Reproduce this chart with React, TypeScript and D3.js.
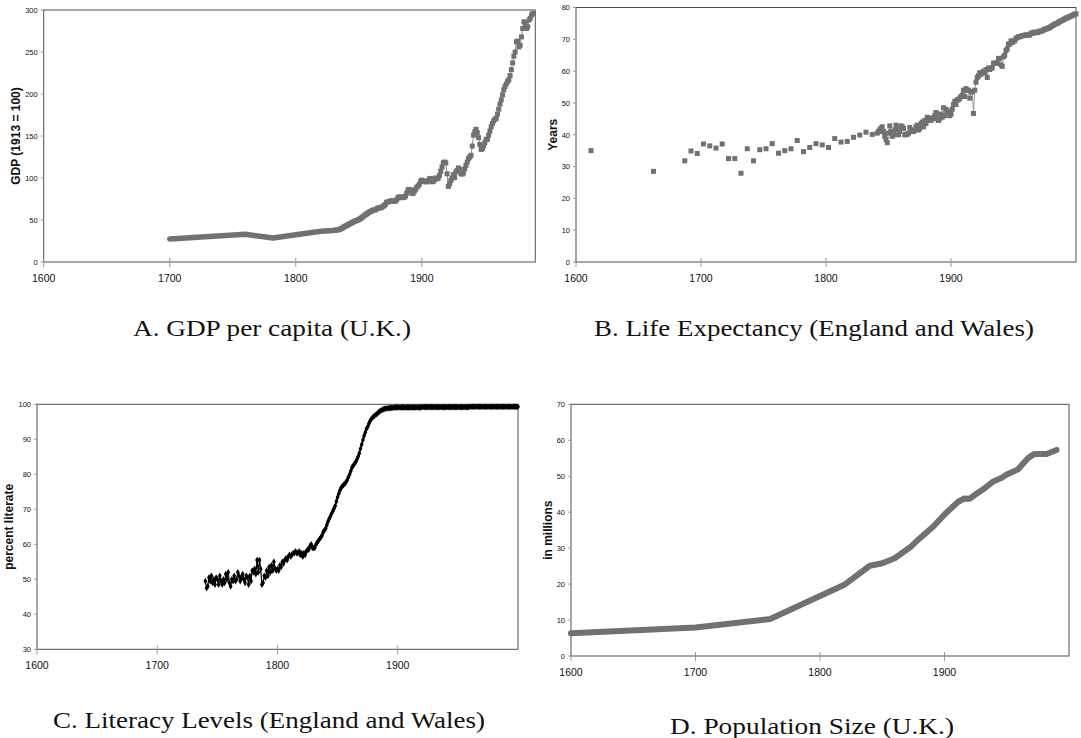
import React from "react";
import * as d3 from "d3";

// ---------------- DATA ----------------
const centuryTicks = [1600, 1700, 1800, 1900];
const gdpTicks = [0, 50, 100, 150, 200, 250, 300];
const lifeTicks = [0, 10, 20, 30, 40, 50, 60, 70, 80];
const literacyTicks = [30, 40, 50, 60, 70, 80, 90, 100];
const popTicks = [0, 10, 20, 30, 40, 50, 60, 70];

// A. GDP per capita (U.K.), 1913 = 100
const gdpEarlyYears = [1700, 1760, 1782, 1800, 1820, 1830];
const gdpEarlyValues = [27.5, 33, 28.5, 32.5, 36.5, 37.5];
const gdpAnnualStart = 1830;
const gdpAnnual = [
  37.5, 37.8, 38, 38.2, 38.5, 39, 39.8, 40.5, 41.5, 42.5,
  43, 44, 44.8, 45.6, 46.4, 47.2, 48, 48.7, 49.3, 49.8,
  50.5, 51.5, 52.5, 53.5, 54.8, 56, 57, 58, 59, 60,
  60.5, 61.5, 62, 62, 63, 64, 64.5, 64.5, 65, 66,
  67, 68.5, 71, 71.5, 72, 72.5, 73, 72.5, 72, 72.5,
  74, 76.5, 77.5, 77.5, 76.5, 77, 77, 78.5, 82, 86,
  86.5, 85.5, 82, 81.5, 84, 86.5, 89, 90.5, 92.5, 96,
  97.5, 96.5, 96, 95.5, 95.5, 96.5, 99, 99.5, 95.5, 96,
  98, 100, 99, 100, 103, 108, 113, 118, 119, 118,
  105, 90, 93, 97, 100, 104, 100.5, 107, 109, 112,
  110, 105.5, 104.5, 106, 111, 115, 119, 123, 125, 127,
  138, 151, 155, 158, 154, 148, 140, 134, 135, 138,
  142, 146, 146, 151, 156, 161, 165, 168, 170, 171,
  176, 182, 188, 193, 199, 205, 209, 212, 215, 217,
  222, 229, 237, 245, 250, 262, 263, 256, 258, 268,
  278, 286, 284, 278, 280, 288, 290, 294, 296,
];

// B. Life expectancy (England and Wales)
const lifeEarlyYears = [
  1612, 1662, 1687, 1692, 1697, 1702, 1707, 1712, 1717, 1722, 1727,
  1732, 1737, 1742, 1747, 1752, 1757, 1762, 1767, 1772, 1777, 1782,
  1787, 1792, 1797, 1802, 1807, 1812, 1817, 1822, 1827, 1832, 1837,
];
const lifeEarlyValues = [
  35, 28.5, 31.8, 34.9, 34.1, 37.1, 36.5, 35.8, 37.1, 32.5, 32.5,
  27.9, 35.6, 31.8, 35.3, 35.6, 37.2, 34.2, 35.0, 35.6, 38.2, 34.7,
  36.0, 37.2, 36.8, 36.0, 38.8, 37.7, 37.9, 39.2, 39.9, 40.8, 40.1,
];
const lifeAnnualStart = 1841;
const lifeAnnual = [
  40.5, 41, 41.5, 42, 42.5, 41, 39.5, 38.5, 37.5, 40.5,
  42.8, 41, 39.5, 40, 41.5, 43, 42, 40, 41, 42.8,
  42.5, 42, 40, 40, 40.2, 40.5, 42.3, 41.5, 41,
  41, 41.5, 42.5, 43, 41.5, 42, 43.5, 44, 42.5, 44.5,
  43.5, 45.5, 44.5, 45, 44.5, 45.3, 45, 46, 47, 46.5,
  44.5, 45, 46.5, 45.5, 48.5, 46, 48, 47.5, 47, 46,
  46.5, 48, 49.5, 50.5, 49.5, 51, 51, 51.5, 52, 52.5,
  54, 52, 54.5, 54, 54, 51.5, 53.5, 53.5, 46.7, 54,
  56.5, 58, 58.5, 59.5, 59, 59.5, 60, 59.5, 60.5, 58,
  61, 60.5, 61, 61, 62.5, 62.5, 62.5, 62.5, 64, 64,
  62, 61.5, 64.5, 65, 66.5, 67, 68.5, 68.5, 69.5, 69,
  69.5, 69.5, 70.3, 70.5, 70.8, 70.8, 71, 71.1, 71.2, 71.3,
  71.4, 71.3, 71.3, 71.4, 71.9, 72, 72, 72.3, 72.1, 72.1,
  72.3, 72.6, 72.5, 72.7, 72.9, 73.2, 73.2, 73.5, 73.5, 73.7,
  74, 74.3, 74.5, 74.7, 75, 75, 75.3, 75.6, 75.8, 75.9,
  76.2, 76.4, 76.7, 76.7, 77, 77.1, 77.3, 77.5, 77.7, 77.9,
  78,
];

// C. Literacy levels (England and Wales), percent literate
const literacyStart = 1740;
const literacyValues = [
  49.5, 47.5, 48, 50.5, 49.5, 51, 49, 50, 48.5, 50.5,
  50, 48.5, 51, 49.5, 48.5, 50, 49, 51.5, 50, 52,
  49, 48, 50, 49.5, 51, 49.5, 50, 52, 51, 49.5,
  50.5, 51.5, 50, 49, 51, 50.5, 48.5, 51, 49.5, 52.5,
  52, 53, 51.5, 55.5, 52, 55.5, 53, 48.5, 49, 51,
  50.5, 52.5, 51, 53.5, 52, 54, 52.5, 55, 53, 52.5,
  53, 52.5, 54, 53.5, 55, 54.5, 55.5, 56, 55.5, 56.5,
  57, 56.5, 57, 57.5, 57.5, 58, 57.5, 57.5, 58, 57,
  57.5, 56.5, 57.5, 57, 58, 58.5, 58.5, 59.5, 60, 59,
  59, 59, 60, 60.5, 61, 61.5, 62, 62.5, 63.5, 64,
  64.5, 65.5, 66.5, 67.3, 68, 68.8, 69.5, 70.2, 71, 72.3,
  73.5, 74.5, 75.5, 76.2, 76.6, 77, 77.3, 77.8, 78.4, 79.2,
  80, 81, 82, 82.5, 83, 83.5, 84.2, 85, 86, 87.3,
  88.5, 89.8, 91, 92, 93, 93.6, 94.5, 95.2, 95.8, 96.2,
  96.5, 96.8, 97.1, 97.4, 97.7, 98, 98.2, 98.4, 98.6, 98.7,
  98.8, 98.8, 98.9, 98.9, 99, 99, 99, 99.1, 99.1, 99.1,
  99.1, 99.1, 99.1, 99.1, 99.1, 99.1, 99.1, 99.1, 99.1, 99.1,
  99.1, 99.1, 99.1, 99.1, 99.1, 99.1, 99.1, 99.1, 99.1, 99.1,
  99.2, 99.2, 99.2, 99.2, 99.2, 99.2, 99.2, 99.2, 99.2, 99.2,
  99.2, 99.2, 99.2, 99.2, 99.2, 99.2, 99.2, 99.2, 99.2, 99.2,
  99.2, 99.2, 99.2, 99.2, 99.2, 99.2, 99.2, 99.2, 99.2, 99.2,
  99.2, 99.2, 99.2, 99.2, 99.2, 99.2, 99.2, 99.2, 99.2, 99.2,
  99.3, 99.3, 99.3, 99.3, 99.3, 99.3, 99.3, 99.3, 99.3, 99.3,
  99.3, 99.3, 99.3, 99.3, 99.3, 99.3, 99.3, 99.3, 99.3, 99.3,
  99.3, 99.3, 99.3, 99.3, 99.3, 99.3, 99.3, 99.3, 99.3, 99.3,
  99.3, 99.3, 99.3, 99.3, 99.3, 99.3, 99.3, 99.3, 99.3, 99.3,
  99.3,
];

// D. Population size (U.K.), in millions
const popYears = [
  1600, 1700, 1760, 1800, 1820, 1840, 1850, 1860, 1873, 1880, 1891,
  1901, 1911, 1916, 1920, 1926, 1932, 1939, 1946, 1950, 1959, 1967,
  1972, 1982, 1990,
];
const popValues = [
  6.3, 7.9, 10.3, 16.7, 19.9, 25.1, 25.8, 27.2, 30.4, 32.7, 36,
  39.7, 42.9, 43.8, 43.7, 45.2, 46.6, 48.5, 49.6, 50.5, 51.9, 55,
  56.2, 56.2, 57.3,
];

const captions = [
  "A. GDP per capita (U.K.)",
  "B. Life Expectancy (England and Wales)",
  "C. Literacy Levels (England and Wales)",
  "D. Population Size (U.K.)",
];
const yTitles = ["GDP (1913 = 100)", "Years", "percent literate", "in millions"];

// ---------------- DRAWING ----------------
const SANS = "'Liberation Sans', Arial, Helvetica, sans-serif";
const SERIF = "'Liberation Serif', 'DejaVu Serif', serif";
const GRAY = "#717171";

type Scale = d3.ScaleLinear<number, number>;

function Axes(props: {
  x: Scale;
  y: Scale;
  yTicks: number[];
  title: string;
  titleX: number;
}) {
  const { x, y, yTicks, title, titleX } = props;
  const [x0, x1] = x.range();
  const [yb, yt] = y.range();
  return (
    <g>
      <rect x={x0} y={yt} width={x1 - x0} height={yb - yt} fill="none" stroke="#505050" strokeWidth={1} />
      {centuryTicks.map((t) => (
        <g key={t}>
          <line x1={x(t)} x2={x(t)} y1={yb - 4} y2={yb + 5} stroke="#9a9a9a" strokeWidth={1} />
          <text x={x(t)} y={yb + 20} textAnchor="middle" fontSize={10.5} fontFamily={SANS} fill="#111">
            {t}
          </text>
        </g>
      ))}
      {yTicks.map((t) => (
        <g key={t}>
          <line x1={x0 - 3} x2={x0} y1={y(t)} y2={y(t)} stroke="#9a9a9a" strokeWidth={1} />
          <text x={x0 - 6} y={y(t) + 2.8} textAnchor="end" fontSize={7.5} fontFamily={SANS} fill="#111">
            {t}
          </text>
        </g>
      ))}
      <text
        transform={`translate(${titleX},${(yb + yt) / 2}) rotate(-90)`}
        textAnchor="middle"
        fontSize={12}
        fontWeight="bold"
        fontFamily={SANS}
        fill="#111"
      >
        {title}
      </text>
    </g>
  );
}

function Caption(props: { text: string; cx: number; y: number; width: number }) {
  const { text, cx, y, width } = props;
  return (
    <text
      x={cx}
      y={y}
      textAnchor="middle"
      fontSize={23}
      fontFamily={SERIF}
      fill="#111"
      textLength={width}
      lengthAdjust="spacingAndGlyphs"
    >
      {text}
    </text>
  );
}

export default function App() {
  // Panel A
  const xA = d3.scaleLinear().domain([1600, 1990]).range([43.7, 535.3]);
  const yA = d3.scaleLinear().domain([0, 300]).range([262, 10]);
  const gdpPts = gdpAnnual.map((v, i) => [gdpAnnualStart + i, v] as [number, number]);
  const earlyPts = gdpEarlyYears.map((yr, i) => [yr, gdpEarlyValues[i]] as [number, number]);
  const lineA = d3.line<[number, number]>().x((d) => xA(d[0])).y((d) => yA(d[1]));

  // Panel B
  const xB = d3.scaleLinear().domain([1600, 2000]).range([576, 1076]);
  const yB = d3.scaleLinear().domain([0, 80]).range([262, 7.5]);
  const lifeEarly = lifeEarlyYears.map((yr, i) => [yr, lifeEarlyValues[i]] as [number, number]);
  const lifePts = lifeAnnual.map((v, i) => [lifeAnnualStart + i, v] as [number, number]);
  const lineB = d3.line<[number, number]>().x((d) => xB(d[0])).y((d) => yB(d[1]));

  // Panel C
  const xC = d3.scaleLinear().domain([1600, 2000]).range([37, 518]);
  const yC = d3.scaleLinear().domain([30, 100]).range([649.3, 404.3]);
  const litPts = literacyValues.map((v, i) => [literacyStart + i, v] as [number, number]);
  const lineC = d3.line<[number, number]>().x((d) => xC(d[0])).y((d) => yC(d[1]));
  const diamond = d3.symbol().type(d3.symbolDiamond).size(13)() || "";

  // Panel D
  const xD = d3.scaleLinear().domain([1600, 2000]).range([571, 1069]);
  const yD = d3.scaleLinear().domain([0, 70]).range([656, 404.3]);
  const popPts = popYears.map((yr, i) => [yr, popValues[i]] as [number, number]);
  const lineD = d3.line<[number, number]>().x((d) => xD(d[0])).y((d) => yD(d[1]));

  const sq = 5;

  return (
    <svg
      width={1081}
      height={738}
      viewBox="0 0 1081 738"
      style={{ position: "absolute", left: 0, top: 0, display: "block", background: "#fff" }}
    >
      <rect x={0} y={0} width={1081} height={738} fill="#fff" />

      {/* Panel A */}
      <Axes x={xA} y={yA} yTicks={gdpTicks} title={yTitles[0]} titleX={19.5} />
      <path d={lineA(earlyPts) || ""} fill="none" stroke={GRAY} strokeWidth={5.5} strokeLinejoin="round" strokeLinecap="round" />
      <path d={lineA(gdpPts) || ""} fill="none" stroke="#8a8a8a" strokeWidth={1} />
      {gdpPts.map((d, i) => (
        <rect key={i} x={xA(d[0]) - sq / 2} y={yA(d[1]) - sq / 2} width={sq} height={sq} fill={GRAY} />
      ))}

      {/* Panel B */}
      <Axes x={xB} y={yB} yTicks={lifeTicks} title={yTitles[1]} titleX={557} />
      <path d={lineB(lifePts) || ""} fill="none" stroke="#9a9a9a" strokeWidth={1} />
      {lifeEarly.concat(lifePts).map((d, i) => (
        <rect key={i} x={xB(d[0]) - sq / 2} y={yB(d[1]) - sq / 2} width={sq} height={sq} fill={GRAY} />
      ))}

      {/* Panel C */}
      <Axes x={xC} y={yC} yTicks={literacyTicks} title={yTitles[2]} titleX={13} />
      <path d={lineC(litPts) || ""} fill="none" stroke="#000" strokeWidth={1.2} />
      {litPts.map((d, i) => (
        <path key={i} d={diamond} transform={`translate(${xC(d[0])},${yC(d[1])})`} fill="#000" />
      ))}

      {/* Panel D */}
      <Axes x={xD} y={yD} yTicks={popTicks} title={yTitles[3]} titleX={552} />
      <path d={lineD(popPts) || ""} fill="none" stroke={GRAY} strokeWidth={6} strokeLinejoin="round" strokeLinecap="round" />

      {/* Captions */}
      <Caption text={captions[0]} cx={272} y={336} width={278} />
      <Caption text={captions[1]} cx={814} y={336} width={440} />
      <Caption text={captions[2]} cx={269} y={728} width={432} />
      <Caption text={captions[3]} cx={812} y={734} width={284} />
    </svg>
  );
}
